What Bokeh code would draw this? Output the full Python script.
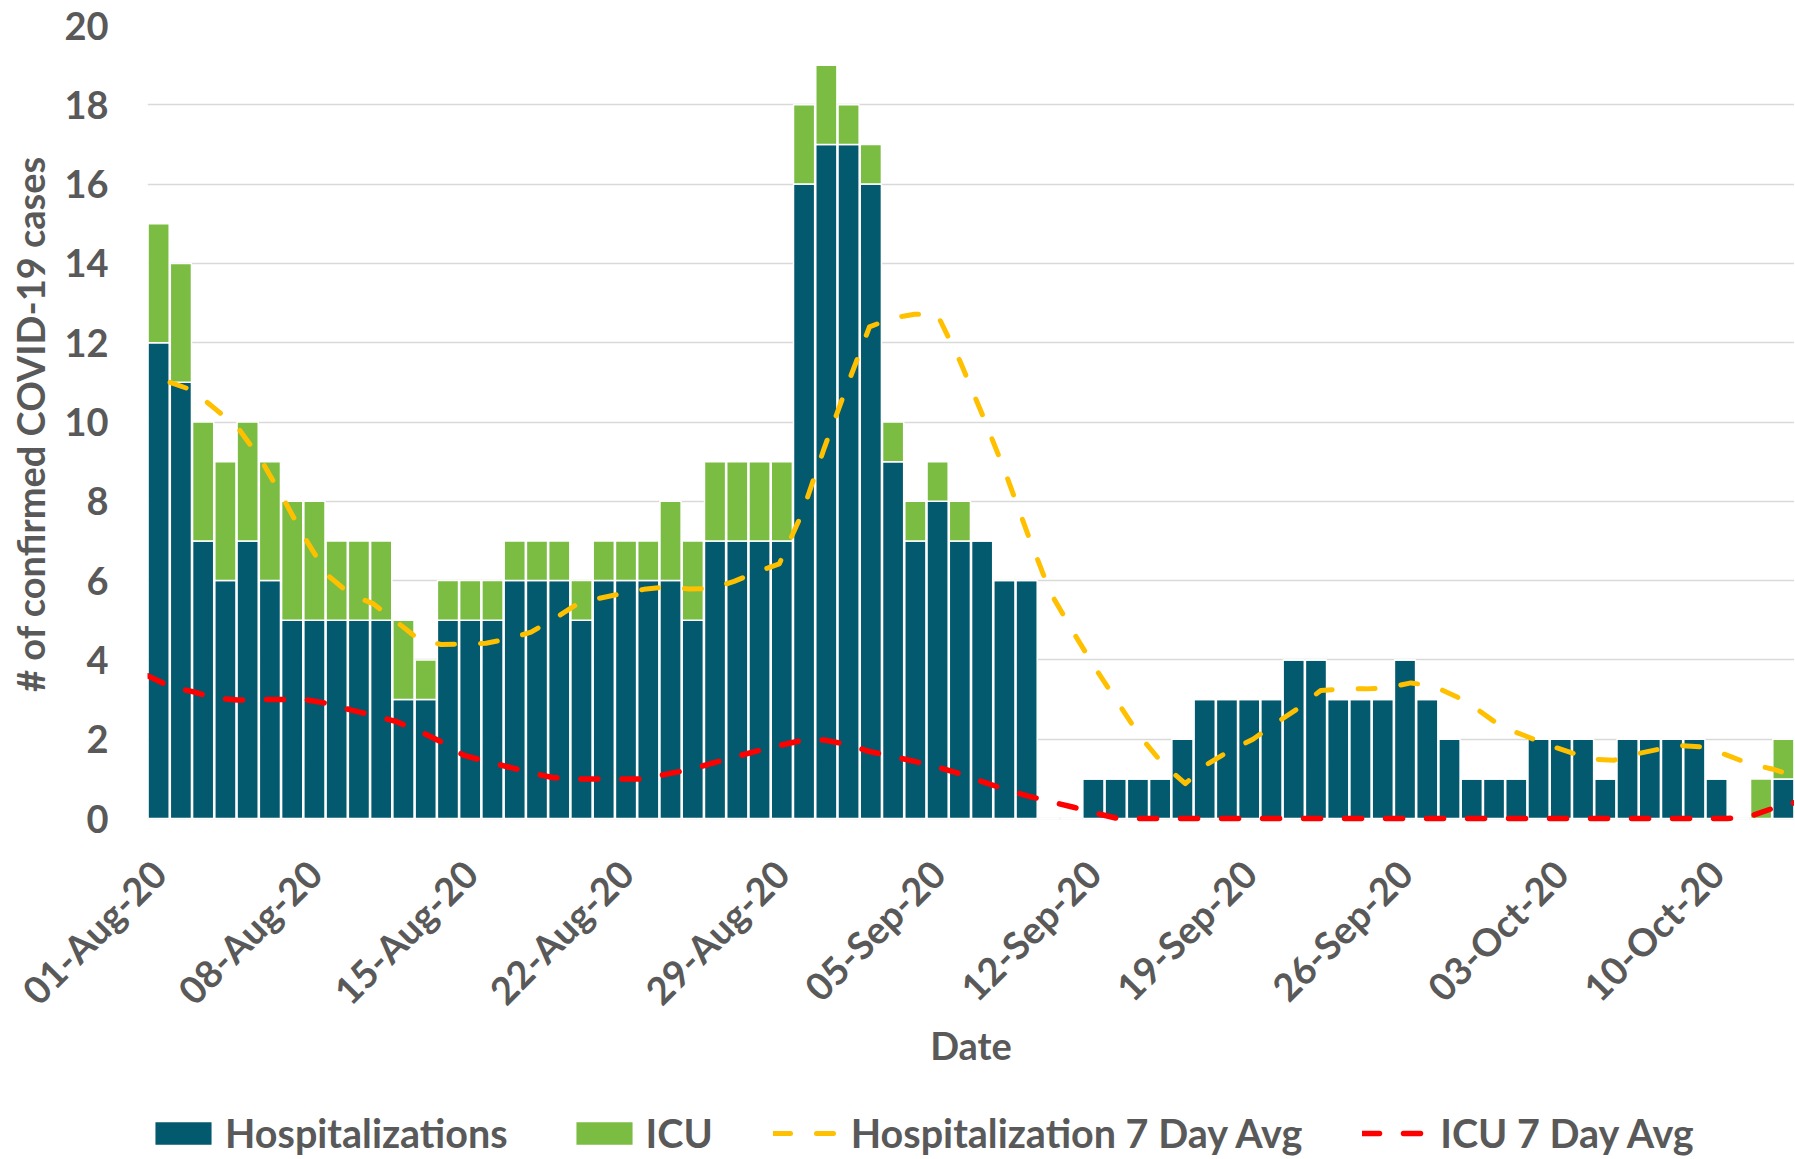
import math
import numpy as np
import pandas as pd
from bokeh.plotting import figure
from bokeh.layouts import column
from bokeh.models import ColumnDataSource, FixedTicker, Legend, LegendItem, Range1d
from bokeh.embed import file_html
from bokeh.resources import INLINE

# ---------------- data ----------------
dates = pd.date_range("2020-08-01", "2020-10-13", freq="D")

hospitalizations = [12, 11, 7, 6, 7, 6, 5, 5, 5, 5,
                    5, 3, 3, 5, 5, 5, 6, 6, 6, 5,
                    6, 6, 6, 6, 5, 7, 7, 7, 7, 16,
                    17, 17, 16, 9, 7, 8, 7, 7, 6, 6,
                    0, 0, 1, 1, 1, 1, 2, 3, 3, 3,
                    3, 4, 4, 3, 3, 3, 4, 3, 2, 1,
                    1, 1, 2, 2, 2, 1, 2, 2, 2, 2,
                    1, 0, 0, 1]

icu = [3, 3, 3, 3, 3, 3, 3, 3, 2, 2,
       2, 2, 1, 1, 1, 1, 1, 1, 1, 1,
       1, 1, 1, 2, 2, 2, 2, 2, 2, 2,
       2, 1, 1, 1, 1, 1, 1, 0, 0, 0,
       0, 0, 0, 0, 0, 0, 0, 0, 0, 0,
       0, 0, 0, 0, 0, 0, 0, 0, 0, 0,
       0, 0, 0, 0, 0, 0, 0, 0, 0, 0,
       0, 0, 1, 1]

hosp_7day_avg = [np.nan, 11.0, 10.8, 10.33, 9.86, 9.08, 8.09, 7.05, 6.13, 5.65,
                 5.42, 4.98, 4.53, 4.39, 4.4, 4.42, 4.53, 4.7, 5.03, 5.39,
                 5.55, 5.67, 5.78, 5.84, 5.79, 5.8, 5.98, 6.22, 6.42, 7.68,
                 9.35, 10.9, 12.4, 12.62, 12.72, 12.72, 11.55, 10.19, 8.76, 7.2,
                 5.72, 4.73, 3.8, 2.93, 2.07, 1.38, 0.88, 1.38, 1.72, 2.0,
                 2.4, 2.78, 3.23, 3.27, 3.27, 3.3, 3.42, 3.34, 3.08, 2.73,
                 2.32, 2.1, 1.87, 1.68, 1.5, 1.47, 1.63, 1.75, 1.84, 1.8,
                 1.6, 1.38, 1.25, 1.08]

icu_7day_avg = [3.6, 3.33, 3.2, 3.03, 2.99, 3.0, 3.0, 3.0, 2.9, 2.74,
                2.6, 2.45, 2.22, 1.94, 1.6, 1.44, 1.3, 1.15, 1.03, 1.0,
                1.0, 1.0, 1.0, 1.12, 1.23, 1.39, 1.55, 1.7, 1.84, 1.97,
                1.98, 1.87, 1.69, 1.57, 1.44, 1.3, 1.13, 0.93, 0.74, 0.57,
                0.43, 0.29, 0.14, 0, 0, 0, 0, 0, 0, 0,
                0, 0, 0, 0, 0, 0, 0, 0, 0, 0,
                0, 0, 0, 0, 0, 0, 0, 0, 0, 0,
                0, 0.05, 0.25, 0.4]

tick_labels = ["01-Aug-20", "08-Aug-20", "15-Aug-20", "22-Aug-20", "29-Aug-20",
               "05-Sep-20", "12-Sep-20", "19-Sep-20", "26-Sep-20", "03-Oct-20",
               "10-Oct-20"]

series_names = ["Hospitalizations", "ICU", "Hospitalization 7 Day Avg", "ICU 7 Day Avg"]

# ---------------- styles ----------------
DARK = "#03596E"
GREEN = "#7BBC43"
YELLOW = "#FFC000"
RED = "#FF0000"
TXT = "#595959"
GRID = "#D9D9D9"
FONT = "Lato"
FS = "38px"

BAR_KW = dict(width=0.95, fill_color=[DARK, GREEN], line_color="white", line_width=1.5)
LINE_STYLE = [dict(line_color=YELLOW, line_width=5, line_dash="17 26",
                   line_cap="round", line_join="round"),
              dict(line_color=RED, line_width=5.5, line_dash="17 24",
                   line_cap="round", line_join="round")]

n = len(dates)
xs = np.arange(n)
src = ColumnDataSource(dict(x=xs, hosp=hospitalizations, icu=icu))
# averages drawn across the full category span (edge to edge, as in the source)
line_x = np.linspace(-0.5, n - 0.5, len(hosp_7day_avg))
h_avg = np.array(hosp_7day_avg, dtype=float)
i_avg = np.array(icu_7day_avg, dtype=float)

W = 1794

# ---------------- main chart ----------------
p = figure(width=W, height=1082,
           x_range=Range1d(-0.5, n - 0.5), y_range=Range1d(-0.1, 20),
           output_backend="svg", toolbar_location=None,
           min_border_left=147, min_border_top=25, min_border_right=0,
           min_border_bottom=260)
p.outline_line_color = None

p.vbar_stack(["hosp", "icu"], x="x", source=src, **BAR_KW)
p.line(line_x, h_avg, **LINE_STYLE[0])
p.line(line_x, i_avg, **LINE_STYLE[1])

p.xgrid.grid_line_color = None
p.ygrid.grid_line_color = GRID
p.ygrid.grid_line_width = 1.5

p.yaxis.ticker = FixedTicker(ticks=list(range(0, 21, 2)))
p.yaxis.axis_line_color = None
p.yaxis.major_tick_line_color = None
p.yaxis.minor_tick_line_color = None
p.yaxis.major_label_standoff = 33
p.yaxis.axis_label = "# of confirmed COVID-19 cases"
p.yaxis.axis_label_standoff = 8

tick_pos = [int(np.where(dates.strftime("%d-%b-%y") == t)[0][0]) for t in tick_labels]
p.xaxis.ticker = FixedTicker(ticks=tick_pos)
p.xaxis.major_label_overrides = {tp: t for tp, t in zip(tick_pos, tick_labels)}
p.xaxis.major_label_orientation = math.pi / 4
p.xaxis.axis_line_color = None
p.xaxis.major_tick_line_color = None
p.xaxis.minor_tick_line_color = None
p.xaxis.major_label_standoff = 38
p.xaxis.axis_label = "Date"
p.xaxis.axis_label_standoff = -10

for ax in (p.xaxis[0], p.yaxis[0]):
    ax.major_label_text_font = FONT
    ax.major_label_text_font_style = "bold"
    ax.major_label_text_font_size = FS
    ax.major_label_text_color = TXT
    ax.axis_label_text_font = FONT
    ax.axis_label_text_font_style = "bold"
    ax.axis_label_text_font_size = FS
    ax.axis_label_text_color = TXT

# ---------------- legend strip (same series, data kept out of view) ----------------
lg = figure(width=W, height=76, x_range=p.x_range, y_range=Range1d(100, 101),
            output_backend="svg", toolbar_location=None,
            x_axis_type=None, y_axis_type=None,
            min_border_left=0, min_border_right=0, min_border_top=0, min_border_bottom=0)
lg.outline_line_color = None
lg.grid.grid_line_color = None
k_bars = lg.vbar_stack(["hosp", "icu"], x="x", source=src, **BAR_KW)
k_ha = lg.line(line_x, h_avg, **LINE_STYLE[0])
k_ia = lg.line(line_x, i_avg, **LINE_STYLE[1])

legend = Legend(items=[LegendItem(label=series_names[0], renderers=[k_bars[0]]),
                       LegendItem(label=series_names[1], renderers=[k_bars[1]]),
                       LegendItem(label=series_names[2], renderers=[k_ha]),
                       LegendItem(label=series_names[3], renderers=[k_ia])],
                orientation="horizontal", location=(0, 2),
                glyph_width=72, glyph_height=30, label_standoff=6, spacing=60,
                padding=0, margin=0, border_line_color=None,
                background_fill_alpha=0,
                label_text_font=FONT, label_text_font_style="bold",
                label_text_font_size="39.5px", label_text_color=TXT)
lg.add_layout(legend)

layout = column(p, lg, spacing=0)
open("out.html", "w").write(file_html(layout, INLINE))
